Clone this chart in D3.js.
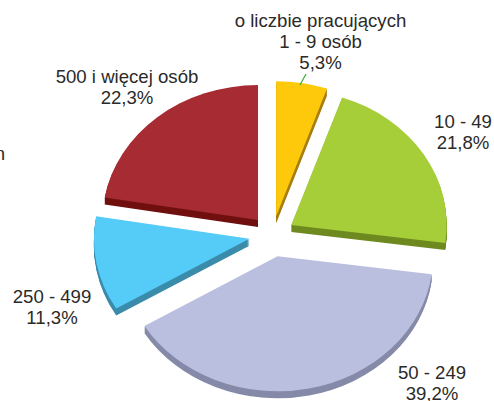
<!DOCTYPE html>
<html>
<head>
<meta charset="utf-8">
<script src="https://cdn.jsdelivr.net/npm/d3@7"></script>
<style>
  html, body { margin: 0; padding: 0; background: #fff; }
  text { font-family: "Liberation Sans", Arial, sans-serif; font-size: 18.6px; fill: #2b2a29; text-anchor: middle; }
</style>
</head>
<body>
<div id="chart"></div>
<script>
// chart data, clockwise from 12 o'clock
var categories = ["1 - 9 osób", "10 - 49", "50 - 249", "250 - 499", "500 i więcej osób"];
var shares = [5.3, 21.8, 39.2, 11.3, 22.3];

var topColors = ["#ffc90b", "#a6ce39", "#babfdf", "#55cbf8", "#a62b32"];
var sideColors = ["#a67f10", "#6e8a20", "#858aa8", "#3b8cab", "#70100f"];

// how far each slice is pulled out of the pie
var explode = [22, 22, 25, 23.5, 22.5];

// x centre and first baseline of each label, in slice order
var labelX = [320.5, 463, 432, 52, 127];
var labelY = [48, 128, 379, 303, 83];

var svgWidth = 494;
var svgHeight = 401;
var cx = 272.5;
var cy = 235;
var rx = 155.5;
var ry = 135;
var depth = 7;
var lineHeight = 21;
var tilt = ry / rx;

var svg = d3.select("#chart")
  .append("svg")
  .attr("width", svgWidth)
  .attr("height", svgHeight)
  .style("display", "block");

var pie = d3.pie().sort(null).value(d => d);
var slices = pie(shares);
var arc = d3.arc().innerRadius(0).outerRadius(rx);

function midAngle(d) {
  return (d.startAngle + d.endAngle) / 2;
}

// slice apex after pulling it out along its middle angle
function sliceX(d, i) {
  return cx + Math.sin(midAngle(d)) * explode[i];
}
function sliceY(d, i) {
  return cy - Math.cos(midAngle(d)) * explode[i] * tilt;
}

var sliceGroups = svg.selectAll("g.slice")
  .data(slices)
  .enter()
  .append("g")
  .attr("class", "slice");

// side wall: the same shape repeated downwards
sliceGroups.each(function(d, i) {
  var group = d3.select(this);
  group.selectAll("path.side")
    .data(d3.range(depth, 0, -1))
    .enter()
    .append("path")
    .attr("class", "side")
    .attr("d", arc(d))
    .attr("fill", sideColors[i])
    .attr("transform", k => `translate(${sliceX(d, i)}, ${sliceY(d, i) + k}) scale(1, ${tilt})`);
});

// top face
sliceGroups.append("path")
  .attr("class", "top")
  .attr("d", d => arc(d))
  .attr("fill", (d, i) => topColors[i])
  .attr("transform", (d, i) => `translate(${sliceX(d, i)}, ${sliceY(d, i)}) scale(1, ${tilt})`);

// leader line of the small slice
svg.append("line")
  .attr("x1", 306)
  .attr("y1", 74)
  .attr("x2", 300)
  .attr("y2", 85)
  .attr("stroke", "#3aaa35")
  .attr("stroke-width", 1.2);

// labels
function percent(v) {
  return v.toFixed(1).replace(".", ",") + "%";
}

categories.forEach(function(name, i) {
  svg.append("text")
    .attr("x", labelX[i])
    .attr("y", labelY[i])
    .text(name);
  svg.append("text")
    .attr("x", labelX[i])
    .attr("y", labelY[i] + lineHeight)
    .text(percent(shares[i]));
});

svg.append("text")
  .attr("x", labelX[0])
  .attr("y", labelY[0] - lineHeight)
  .text("o liczbie pracujących");

// end of a word cut off by the left edge in the original
svg.append("text")
  .attr("x", 5)
  .attr("y", 160)
  .style("text-anchor", "end")
  .text("n");
</script>
</body>
</html>
